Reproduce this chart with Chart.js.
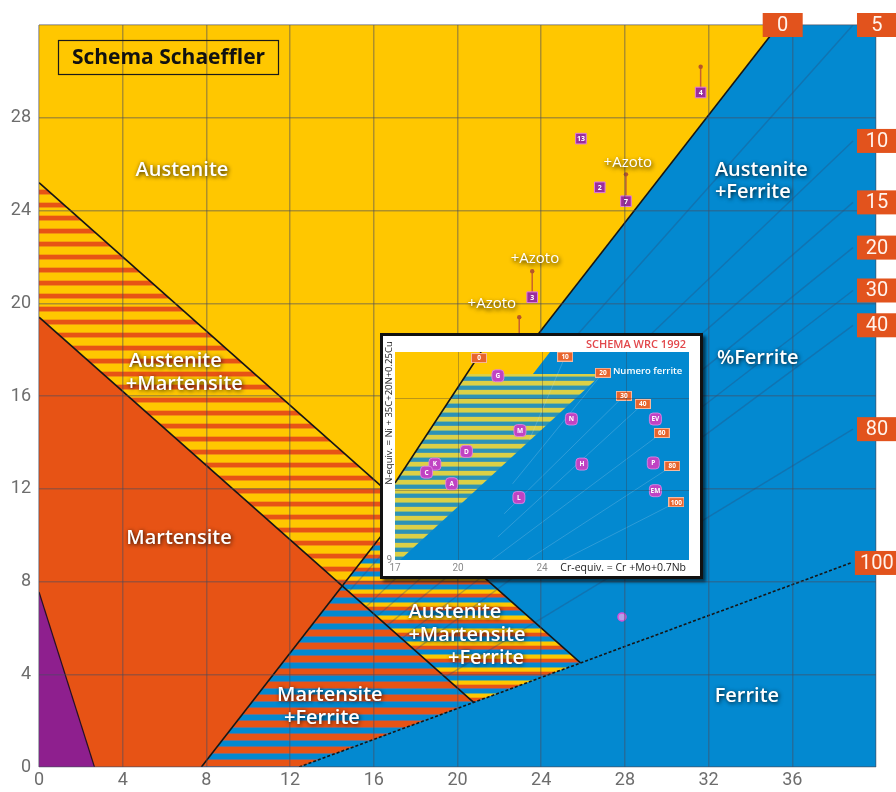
<!DOCTYPE html>
<html>
<head>
<meta charset="utf-8">
<script src="https://cdn.jsdelivr.net/npm/chart.js@4/dist/chart.umd.min.js"></script>
<style>
  html, body { margin: 0; padding: 0; background: #fff; }
  #wrap { position: relative; width: 896px; height: 792px; overflow: hidden; }
  #main { position: absolute; left: 0; top: 0; }
  #insetBox {
    position: absolute; left: 380px; top: 333px; width: 323px; height: 246px;
    box-sizing: border-box; border: 3px solid #111; background: #fff;
    box-shadow: 3px 3px 3px rgba(0,0,0,0.6);
  }
  #inset { display: block; }
</style>
</head>
<body>
<div id="wrap">
  <canvas id="main" width="896" height="792"></canvas>
  <div id="insetBox"><canvas id="inset" width="317" height="240"></canvas></div>
</div>
<script>
// ---------- Schaeffler diagram: Cr-equivalent (x) vs Ni-equivalent (y) ----------
const xTicks = [0, 4, 8, 12, 16, 20, 24, 28, 32, 36, 40];
const xTickLabels = ['0', '4', '8', '12', '16', '20', '24', '28', '32', '36', ''];
const yTicks = [0, 4, 8, 12, 16, 20, 24, 28, 32];
const yTickLabels = ['0', '4', '8', '12', '16', '20', '24', '28', ''];

// phase fields, corners as [Cr-eq, Ni-eq]
const plotField = [[0, 0], [40, 0], [40, 32], [0, 32]];
const austeniteField = [[0, 32], [35.35, 32], [17.45, 11.24], [0, 25.2]];
const austMartField = [[0, 25.2], [17.45, 11.24], [14.49, 7.81], [0, 19.4]];
const martensiteField = [[0, 19.4], [14.49, 7.81], [7.76, 0], [2.65, 0], [0, 7.55]];
const lowAlloyField = [[0, 7.55], [2.65, 0], [0, 0]];
const martFerrField = [[7.76, 0], [14.49, 7.81], [20.77, 2.79], [12.43, 0]];
const threePhaseField = [[14.49, 7.81], [17.45, 11.24], [25.88, 4.49], [20.77, 2.79]];

// phase boundaries
const austeniteLimit = [[0, 25.2], [25.88, 4.49]];
const martensiteLimit = [[0, 19.4], [20.77, 2.79]];
const lowAlloyLimit = [[0, 7.55], [2.65, 0]];

// iso-ferrite lines (% ferrite)
const ferriteLevels = ['0', '5', '10', '15', '20', '30', '40', '80', '100'];
const ferriteStart = [[7.76, 0], [14.8, 7.56], [15.62, 6.9], [16.14, 6.49], [16.63, 6.1], [17.33, 5.53], [17.96, 5.03], [19.4, 3.88], [12.43, 0]];
const ferriteEnd = [[35.35, 32], [38.9, 32], [38.9, 27.0], [38.9, 24.35], [38.9, 22.4], [38.9, 20.55], [38.9, 19.05], [38.9, 14.57], [38.8, 8.8]];

// welded alloys, with the shift given by nitrogen
const alloyCr = [31.62, 25.9, 26.8, 28.05, 23.57, 22.95];
const alloyNi = [29.09, 27.1, 25.0, 24.4, 20.26, 18.23];
const alloyTag = ['4', '13', '2', '7', '3', '12'];
const nitrogenNi = [30.2, null, null, 25.56, 21.38, 19.4];
const ferriticSample = [27.86, 6.47];

const azotoText = ['+Azoto', '+Azoto', '+Azoto'];
const azotoX = [28.14, 23.7, 21.64];
const azotoY = [26.05, 21.9, 19.97];

// field names
const regionText = ['Austenite', 'Austenite', '+Ferrite', '%Ferrite', 'Austenite', '+Martensite', 'Martensite',
  'Austenite', '+Martensite', '+Ferrite', 'Martensite', '+Ferrite', 'Ferrite'];
const regionX = [6.83, 32.3, 32.3, 34.35, 4.3, 4.15, 6.69, 19.88, 20.45, 21.36, 13.9, 13.52, 33.83];
const regionY = [25.74, 25.74, 24.8, 17.64, 17.5, 16.52, 9.87, 6.68, 5.69, 4.70, 3.10, 2.11, 3.06];
const regionAlign = ['center', 'left', 'left', 'center', 'left', 'left', 'center',
  'center', 'center', 'center', 'center', 'center', 'center'];

// ---------- WRC 1992 inset ----------
const wrcXTicks = [17, 20, 24, 28, 31];
const wrcXLabels = ['17', '20', '24', '', ''];
const wrcYTicks = [9, 12, 16, 18];
const wrcYLabels = ['9', '', '', ''];
const wrcField = [[17, 9], [31, 9], [31, 18], [17, 18]];
const wrcAustenite = [[17, 18], [24.38, 18], [23.57, 17.05], [20.41, 17.05], [17, 12.33]];
const wrcDuplexBand = [[20.41, 17.05], [26.86, 17.05], [17.24, 9], [17, 9], [17, 12.33]];
const wrcLimit = [[17, 12.33], [21.1, 18]];
const fnValue = ['0', '10', '20', '30', '40', '60', '80', '100'];
const fnCr = [21.0, 25.1, 26.9, 27.9, 28.8, 29.7, 30.2, 30.4];
const fnNi = [17.74, 17.8, 17.1, 16.1, 15.75, 14.5, 13.07, 11.5];
const fnLineFrom = [null, [23.4, 14.2], [22.6, 12.3], [22.2, 11.0], [21.9, 10.0], [21.6, 9.0], [23.3, 9.0], [25.0, 9.0]];
const sampleTag = ['G', 'N', 'M', 'EV', 'D', 'K', 'C', 'A', 'L', 'H', 'P', 'EM'];
const sampleCr = [21.9, 25.4, 22.95, 29.4, 20.4, 18.9, 18.5, 19.7, 22.9, 25.9, 29.3, 29.4];
const sampleNi = [16.97, 15.1, 14.6, 15.1, 13.7, 13.15, 12.8, 12.3, 11.7, 13.15, 13.2, 12.0];

// ---------- styling ----------
const FONT_UI = "'Open Sans', 'Noto Sans', sans-serif";
const FONT_NUM = "'Liberation Sans Narrow', 'Roboto', sans-serif";
const YELLOW = '#FFC700', ORANGE = '#E75315', BLUE = '#0389D0', PURPLE = '#8E1F8E';
const GRID = 'rgba(70,75,95,0.45)';

function bands(list) {
  const h = list.reduce((s, b) => s + b[1], 0);
  const c = document.createElement('canvas');
  c.width = 8; c.height = h;
  const g = c.getContext('2d');
  let y = 0;
  for (const [col, n] of list) { g.fillStyle = col; g.fillRect(0, y, 8, n); y += n; }
  return g.createPattern(c, 'repeat');
}
const AUST_MART = bands([[YELLOW, 7], ['#F6A00A', 1], [ORANGE, 4], ['#F29012', 1]]);
const MART_FERR = bands([[BLUE, 5], ['#6F6E86', 1], [ORANGE, 6], ['#7A6E80', 1]]);
const THREE_PHASE = bands([[BLUE, 4], ['#7FAE6A', 1], [YELLOW, 3], ['#F5A30C', 1], [ORANGE, 3], ['#77688A', 1]]);
const WRC_BAND = bands([['#DCD046', 4], ['#8FB87A', 1], ['#2C93B6', 3], ['#4A9AA8', 1]]);

const pt = v => ({ x: v[0], y: v[1] });
function area(points, fillStyle, order) {
  return { data: points.map(pt), showLine: true, fill: 'shape', backgroundColor: fillStyle,
    borderColor: 'rgba(0,0,0,0)', borderWidth: 0, pointRadius: 0, order };
}
function edge(points, color, width, dash, order) {
  return { data: points.map(pt), showLine: true, fill: false, borderColor: color, borderWidth: width,
    borderDash: dash || [], pointRadius: 0, order };
}
function shadowText(ctx, text, x, y, size, align, weight) {
  ctx.save();
  ctx.font = `${weight} ${size}px ${FONT_UI}`;
  ctx.textAlign = align;
  ctx.textBaseline = 'middle';
  ctx.shadowColor = 'rgba(0,0,0,0.85)';
  ctx.shadowBlur = 4; ctx.shadowOffsetX = 1; ctx.shadowOffsetY = 1.5;
  ctx.fillStyle = '#fff';
  ctx.fillText(text, x, y);
  ctx.restore();
}

// ---------- main chart ----------
const mainSets = [];
mainSets.push({ data: alloyCr.map((x, i) => ({ x, y: alloyNi[i] })), pointStyle: 'rect', pointRadius: 7.5,
  backgroundColor: '#9A2D9C', borderColor: '#E07BE0', borderWidth: 1, showLine: false, order: 1 });
mainSets.push({ data: [pt(ferriticSample)], pointStyle: 'circle', pointRadius: 4,
  backgroundColor: 'rgba(240,165,240,0.75)', borderColor: '#D94FD9', borderWidth: 1.5, showLine: false, order: 1 });
alloyCr.forEach((x, i) => {
  if (nitrogenNi[i] == null) return;
  mainSets.push({ data: [{ x, y: alloyNi[i] }, { x, y: nitrogenNi[i] }], showLine: true, fill: false,
    borderColor: '#C8612E', borderWidth: 1.5, pointRadius: [0, 2.2], pointBackgroundColor: '#B5552A',
    pointBorderWidth: 0, order: 2 });
});
mainSets.push(edge([ferriteStart[0], ferriteEnd[0]], '#161616', 1.6, null, 5));
mainSets.push(edge([ferriteStart[8], ferriteEnd[8]], '#161616', 1.6, [3, 2], 5));
mainSets.push(edge(austeniteLimit, '#161616', 1.6, null, 5));
mainSets.push(edge(martensiteLimit, '#161616', 1.6, null, 5));
mainSets.push(edge(lowAlloyLimit, '#2a1020', 1.2, null, 5));
for (let i = 1; i < ferriteLevels.length - 1; i++) {
  mainSets.push(edge([ferriteStart[i], ferriteEnd[i]], 'rgba(45,70,115,0.32)', 1.5, null, 8));
}
mainSets.push(area(threePhaseField, THREE_PHASE, 10));
mainSets.push(area(martFerrField, MART_FERR, 10));
mainSets.push(area(lowAlloyField, PURPLE, 10));
mainSets.push(area(martensiteField, ORANGE, 10));
mainSets.push(area(austMartField, AUST_MART, 10));
mainSets.push(area(austeniteField, YELLOW, 10));
mainSets.push(area(plotField, BLUE, 20));

const mainLabels = {
  id: 'mainLabels',
  afterDraw(chart) {
    const ctx = chart.ctx, xs = chart.scales.x, ys = chart.scales.y, ca = chart.chartArea;
    // sample tags
    const meta = chart.getDatasetMeta(0);
    ctx.save();
    ctx.font = `700 7px ${FONT_UI}`;
    ctx.fillStyle = '#fff'; ctx.textAlign = 'center'; ctx.textBaseline = 'middle';
    meta.data.forEach((el, i) => ctx.fillText(alloyTag[i], el.x, el.y + 0.5));
    ctx.restore();
    // title box
    ctx.save();
    ctx.strokeStyle = '#1a1a1a'; ctx.lineWidth = 1.2;
    ctx.strokeRect(ca.left + 19.5, ca.top + 15.5, 220, 34);
    ctx.font = `700 21px ${FONT_UI}`;
    ctx.fillStyle = '#111'; ctx.textAlign = 'center'; ctx.textBaseline = 'middle';
    ctx.fillText('Schema Schaeffler', ca.left + 129.5, ca.top + 33);
    ctx.restore();
    // field names
    regionText.forEach((t, i) => shadowText(ctx, t, xs.getPixelForValue(regionX[i]), ys.getPixelForValue(regionY[i]), 20, regionAlign[i], 600));
    azotoText.forEach((t, i) => shadowText(ctx, t, xs.getPixelForValue(azotoX[i]), ys.getPixelForValue(azotoY[i]), 15, 'center', 400));
    // ferrite percentage tabs
    ctx.save();
    ctx.font = `20px ${FONT_NUM}`;
    ctx.textBaseline = 'middle'; ctx.textAlign = 'center';
    ferriteLevels.forEach((lv, i) => {
      const ex = xs.getPixelForValue(ferriteEnd[i][0]);
      const ey = Math.max(ys.getPixelForValue(ferriteEnd[i][1]), ca.top);
      const w = lv.length > 2 ? 44 : 40, h = 24;
      const left = i === 0 ? ex + 4 - w / 2 : ex + 4;
      ctx.fillStyle = '#E2531D';
      ctx.fillRect(left, ey - h / 2, w, h);
      ctx.fillStyle = '#FFF3EC';
      ctx.fillText(lv, left + w / 2, ey + 1);
    });
    ctx.restore();
  }
};

new Chart(document.getElementById('main'), {
  type: 'scatter',
  data: { datasets: mainSets },
  options: {
    responsive: false, animation: false, devicePixelRatio: 1,
    layout: { padding: { top: 25, right: 20, left: 0, bottom: 0 } },
    plugins: { legend: { display: false }, tooltip: { enabled: false } },
    scales: {
      x: {
        type: 'linear', min: 0, max: 40,
        afterBuildTicks: s => { s.ticks = xTicks.map(v => ({ value: v })); },
        afterFit: s => { s.height = 25; },
        ticks: { autoSkip: false, maxRotation: 0, padding: 3, color: '#6d6d6d',
          font: { family: FONT_NUM, size: 18 },
          callback: (v) => xTickLabels[xTicks.indexOf(v)] },
        grid: { color: GRID, lineWidth: 1.5, drawTicks: false, z: 1 },
        border: { display: false }
      },
      y: {
        type: 'linear', min: 0, max: 32,
        afterBuildTicks: s => { s.ticks = yTicks.map(v => ({ value: v })); },
        afterFit: s => { s.width = 39; },
        ticks: { autoSkip: false, padding: 8, color: '#6d6d6d',
          font: { family: FONT_NUM, size: 18 },
          callback: (v) => yTickLabels[yTicks.indexOf(v)] },
        grid: { color: GRID, lineWidth: 1.5, drawTicks: false, z: 1 },
        border: { display: false }
      }
    }
  },
  plugins: [mainLabels]
});

// ---------- inset chart ----------
function tabImage(w, h, color) {
  const c = document.createElement('canvas');
  c.width = w; c.height = h;
  const g = c.getContext('2d');
  g.fillStyle = color; g.fillRect(0, 0, w, h);
  g.strokeStyle = 'rgba(255,255,255,0.55)'; g.lineWidth = 1; g.strokeRect(0.5, 0.5, w - 1, h - 1);
  return c;
}
const FN_TAB = tabImage(16, 10, '#E8642C');
const insetSets = [
  { data: sampleCr.map((x, i) => ({ x, y: sampleNi[i] })), pointStyle: 'rectRounded', pointRadius: 7,
    backgroundColor: '#C043C3', borderColor: '#E48BE8', borderWidth: 0.8, showLine: false, order: 1 },
  { data: fnCr.map((x, i) => ({ x, y: fnNi[i] })), pointStyle: FN_TAB, showLine: false, order: 2 },
  edge(wrcLimit, '#151515', 1.6, null, 5)
];
fnLineFrom.forEach((from, i) => {
  if (!from) return;
  insetSets.push(edge([from, [fnCr[i], fnNi[i]]], 'rgba(200,225,240,0.22)', 1, null, 8));
});
insetSets.push(area(wrcDuplexBand, WRC_BAND, 10));
insetSets.push(area(wrcAustenite, YELLOW, 10));
insetSets.push(area(wrcField, BLUE, 20));

const insetLabels = {
  id: 'insetLabels',
  afterDraw(chart) {
    const ctx = chart.ctx, ca = chart.chartArea;
    ctx.save();
    ctx.textAlign = 'center'; ctx.textBaseline = 'middle';
    ctx.font = `700 6.5px ${FONT_UI}`; ctx.fillStyle = '#fff';
    chart.getDatasetMeta(0).data.forEach((el, i) => ctx.fillText(sampleTag[i], el.x, el.y + 0.5));
    chart.getDatasetMeta(1).data.forEach((el, i) => ctx.fillText(fnValue[i], el.x, el.y + 0.5));
    // note beside the tabs
    const tab = chart.getDatasetMeta(1).data[2];
    ctx.textAlign = 'left';
    ctx.font = `600 9.5px ${FONT_UI}`;
    ctx.fillText('Numero ferrite', tab.x + 10, tab.y - 2);
    // headings
    ctx.textAlign = 'right';
    ctx.fillStyle = '#E2474B';
    ctx.font = `600 11px ${FONT_UI}`;
    ctx.fillText('SCHEMA WRC 1992', ca.right - 3, 9);
    ctx.fillStyle = '#222';
    ctx.font = `400 10.5px ${FONT_UI}`;
    ctx.fillText('Cr-equiv. = Cr +Mo+0.7Nb', ca.right - 3, chart.height - 8);
    ctx.translate(6, 77);
    ctx.rotate(-Math.PI / 2);
    ctx.textAlign = 'center';
    ctx.font = `400 9.5px ${FONT_UI}`;
    ctx.fillText('N-equiv. = Ni + 35C+20N+0.25Cu', 0, 0);
    ctx.restore();
  }
};

new Chart(document.getElementById('inset'), {
  type: 'scatter',
  data: { datasets: insetSets },
  options: {
    responsive: false, animation: false, devicePixelRatio: 1,
    layout: { padding: { top: 16, right: 11, left: 0, bottom: 0 } },
    plugins: { legend: { display: false }, tooltip: { enabled: false } },
    scales: {
      x: {
        type: 'linear', min: 17, max: 31,
        afterBuildTicks: s => { s.ticks = wrcXTicks.map(v => ({ value: v })); },
        afterFit: s => { s.height = 16; },
        ticks: { autoSkip: false, maxRotation: 0, padding: 2, color: '#8a8a8a',
          font: { family: FONT_NUM, size: 10 },
          callback: (v) => wrcXLabels[wrcXTicks.indexOf(v)] },
        grid: { color: (c) => (c.tick && (c.tick.value === 17 || c.tick.value === 31)) ? 'rgba(0,0,0,0)' : 'rgba(60,60,70,0.35)',
          lineWidth: 1, drawTicks: false, z: 1 },
        border: { display: false }
      },
      y: {
        type: 'linear', min: 9, max: 18,
        afterBuildTicks: s => { s.ticks = wrcYTicks.map(v => ({ value: v })); },
        afterFit: s => { s.width = 12; },
        ticks: { autoSkip: false, padding: 3, color: '#8a8a8a',
          font: { family: FONT_NUM, size: 10 },
          callback: (v) => wrcYLabels[wrcYTicks.indexOf(v)] },
        grid: { color: (c) => (c.tick && (c.tick.value === 9 || c.tick.value === 18)) ? 'rgba(0,0,0,0)' : 'rgba(60,60,70,0.35)',
          lineWidth: 1, drawTicks: false, z: 1 },
        border: { display: false }
      }
    }
  },
  plugins: [insetLabels]
});
</script>
</body>
</html>
